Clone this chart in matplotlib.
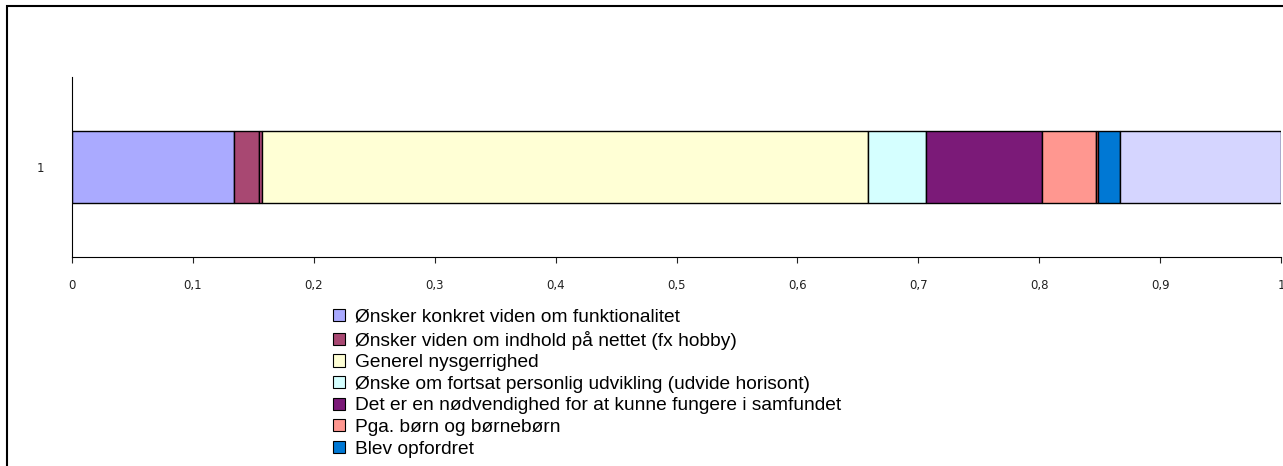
import matplotlib.pyplot as plt
from matplotlib.patches import Rectangle, Patch
import numpy as np

# share of answers, one stacked bar (category "1")
category = ['1']
labels = ['Ønsker konkret viden om funktionalitet',
          'Ønsker viden om indhold på nettet (fx hobby)',
          '',
          'Generel nysgerrighed',
          'Ønske om fortsat personlig udvikling (udvide horisont)',
          'Det er en nødvendighed for at kunne fungere i samfundet',
          'Pga. børn og børnebørn',
          '',
          'Blev opfordret',
          '']
values = [0.134, 0.021, 0.002, 0.501, 0.048, 0.096, 0.045, 0.002, 0.018, 0.133]
colors = ['#aaaaff', '#a84872', '#c8508a', '#ffffd5', '#d5ffff',
          '#7b1a78', '#ff9790', '#ff6a6a', '#0078d4', '#d5d5ff']
xticks = np.arange(0, 1.01, 0.1)
xticklabels = ['0', '0,1', '0,2', '0,3', '0,4', '0,5', '0,6', '0,7', '0,8', '0,9', '1']

plt.rcParams['font.family'] = ['Liberation Sans', 'DejaVu Sans']

fig = plt.figure(figsize=(12.83, 4.66), dpi=100)
W, H = 1283, 466
ax = fig.add_axes([72 / W, 1 - 257 / H, (1281 - 72) / W, (257 - 77) / H])

left = 0
for v, c in zip(values, colors):
    ax.barh(category, v, left=left, height=0.4, color=c, edgecolor='black', linewidth=1)
    left += v

ax.set_xlim(0, 1)
ax.set_ylim(-0.5, 0.5)
ax.set_xticks(xticks)
ax.set_xticklabels(xticklabels, family='DejaVu Sans', fontsize=8.5)
ax.tick_params(axis='x', length=4, width=0.8, pad=12, colors='#222222')
ax.tick_params(axis='y', length=0, pad=20, labelsize=8.5, labelcolor='#222222')
for lab in ax.get_yticklabels():
    lab.set_family('DejaVu Sans')
ax.spines['top'].set_visible(False)
ax.spines['right'].set_visible(False)

handles = [Patch(facecolor=c, edgecolor='black', linewidth=0.8)
           for lab, c in zip(labels, colors) if lab]
names = [lab for lab in labels if lab]
fig.legend(handles, names, loc='upper left', bbox_to_anchor=(333 / W, 1 - 309 / H),
           frameon=False, fontsize=13.8, handlelength=0.6, handleheight=0.6,
           handletextpad=0.55, labelspacing=0.24, borderpad=0, borderaxespad=0)

# chart area border
fig.patches.append(Rectangle((7 / W, -0.01), 1.1, 1 - 6 / H + 0.01, transform=fig.transFigure,
                             fill=False, edgecolor='black', linewidth=1.5))

fig.savefig('out.png', dpi=100)
